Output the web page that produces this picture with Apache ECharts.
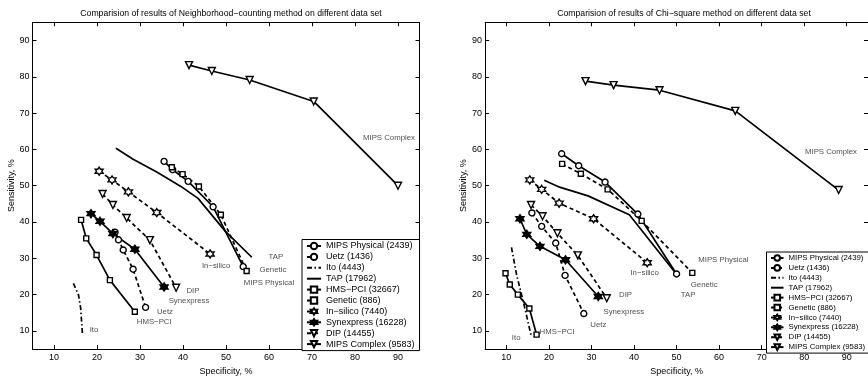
<!DOCTYPE html>
<html>
<head>
<meta charset="utf-8">
<script src="https://cdn.jsdelivr.net/npm/echarts@6/dist/echarts.min.js"></script>
<style>html,body{margin:0;padding:0;background:#fff}#c{width:868px;height:381px}</style>
</head>
<body>
<div id="c"></div>
<script>
// ---- data ----
const seriesNames = ['MIPS Physical (2439)','Uetz (1436)','Ito (4443)','TAP (17962)','HMS\u2212PCI (32667)','Genetic (886)','In\u2212silico (7440)','Synexpress (16228)','DIP (14455)','MIPS Complex (9583)'];
const tickValues = [10,20,30,40,50,60,70,80,90];
const titleLeft = 'Comparision of results of Neighborhood\u2212counting method on different data set';
const titleRight = 'Comparision of results of Chi\u2212square method on different data set';

// Neighborhood-counting (left)  [specificity, sensitivity]
const nbMipsPhysical = [[35.6,56.7],[37.6,54.4],[41.2,51.2],[47.0,44.2],[54.0,27.7]];
const nbUetz = [[24.2,37.2],[25.0,35.1],[26.1,32.3],[28.4,27.0],[31.3,16.5]];
const nbIto = [[14.5,23.1],[15.7,19.9],[16.2,16.3],[16.6,9.4]];
const nbTap = [[24.4,60.3],[28.4,57.3],[33.9,53.8],[39.5,49.8],[43.5,46.5],[49.8,37.5],[56.0,30.3]];
const nbHmsPci = [[16.3,40.6],[17.5,35.5],[19.9,30.9],[23.0,24.0],[28.8,15.3]];
const nbGenetic = [[37.4,55.1],[39.9,53.2],[43.7,49.8],[48.8,42.0],[54.8,26.5]];
const nbInSilico = [[20.5,54.0],[23.5,51.6],[27.3,48.3],[33.9,42.6],[46.3,31.2]];
const nbSynexpress = [[18.6,42.3],[20.7,40.2],[23.7,36.8],[28.8,32.5],[35.6,22.1]];
const nbDip = [[21.3,47.7],[23.7,44.7],[26.9,41.1],[32.3,35.0],[38.4,21.9]];
const nbMipsComplex = [[41.4,83.2],[46.7,81.6],[55.5,79.1],[70.4,73.2],[90.0,50.0]];

// Chi-square (right)
const csMipsPhysical = [[23.0,58.8],[27.0,55.5],[33.2,51.0],[40.9,42.2],[50.0,25.7]];
const csUetz = [[16.0,42.5],[18.3,38.8],[21.6,34.2],[23.8,25.3],[28.2,14.8]];
const csIto = [[11.2,33.0],[12.4,25.5],[14.2,17.0],[15.8,8.8]];
const csTap = [[18.9,51.5],[22.5,49.6],[29.2,47.2],[38.9,42.0],[49.8,25.9]];
const csHmsPci = [[9.8,25.9],[10.8,22.8],[12.7,20.0],[15.4,16.2],[17.1,9.0]];
const csGenetic = [[23.1,56.0],[27.5,53.3],[33.8,49.0],[41.8,40.3],[53.7,26.0]];
const csInSilico = [[15.5,51.6],[18.3,49.0],[22.4,45.2],[30.5,40.9],[43.1,28.8]];
const csSynexpress = [[13.2,40.9],[14.8,36.6],[17.9,33.3],[23.9,29.6],[31.6,19.5]];
const csDip = [[15.8,44.7],[18.5,41.6],[22.0,36.9],[26.8,30.8],[33.6,19.0]];
const csMipsComplex = [[28.6,78.8],[35.2,77.7],[46.0,76.3],[63.8,70.6],[88.1,48.8]];

// text annotations [x, y, text]
const nbLabels = [[87.9,63.2,'MIPS Complex'],[61.6,30.5,'TAP'],[60.9,26.9,'Genetic'],[60.0,23.2,'MIPS Physical'],[47.7,27.8,'In\u2212silico'],[42.3,21.0,'DIP'],[41.4,18.3,'Synexpress'],[35.8,15.3,'Uetz'],[33.3,12.4,'HMS\u2212PCI'],[19.3,10.2,'Ito']];
const csLabels = [[86.3,59.3,'MIPS Complex'],[61.0,29.7,'MIPS Physical'],[56.5,22.7,'Genetic'],[52.7,20.0,'TAP'],[42.5,25.9,'In\u2212silico'],[38.0,20.0,'DIP'],[37.6,15.3,'Synexpress'],[31.6,11.7,'Uetz'],[21.9,9.7,'HMS\u2212PCI'],[12.3,8.2,'Ito']];

const nbData = [nbMipsPhysical,nbUetz,nbIto,nbTap,nbHmsPci,nbGenetic,nbInSilico,nbSynexpress,nbDip,nbMipsComplex];
const csData = [csMipsPhysical,csUetz,csIto,csTap,csHmsPci,csGenetic,csInSilico,csSynexpress,csDip,csMipsComplex];

// ---- styles ----
const FONT = 'Liberation Sans';
const HEX = 'path://M0,-10L2.89,-5L8.66,-5L5.77,0L8.66,5L2.89,5L0,10L-2.89,5L-8.66,5L-5.77,0L-8.66,-5L-2.89,-5Z';
const TRI = 'path://M0,0L10,0L5,9Z';
const DASH = [4,3];
const DASHDOT = [5,2.5,1.5,2.5];
const styles = [
  {symbol:'circle', size:6, type:'solid', fill:'#fff'},
  {symbol:'circle', size:6, type:DASH, fill:'#fff'},
  {symbol:'none', size:0, type:DASHDOT, fill:'#fff'},
  {symbol:'none', size:0, type:'solid', fill:'#fff'},
  {symbol:'rect', size:5, type:'solid', fill:'#fff'},
  {symbol:'rect', size:5, type:DASH, fill:'#fff'},
  {symbol:HEX, size:8, type:DASH, fill:'#fff'},
  {symbol:HEX, size:8, type:'solid', fill:'#000'},
  {symbol:TRI, size:7, type:DASH, fill:'#fff'},
  {symbol:TRI, size:7, type:'solid', fill:'#fff'}
];

function makeSeries(dataSets, xi, yi) {
  return dataSets.map((d, i) => ({
    name: seriesNames[i],
    type: 'line',
    xAxisIndex: xi, yAxisIndex: yi,
    data: d,
    symbol: styles[i].symbol,
    symbolSize: styles[i].size,
    showSymbol: styles[i].symbol !== 'none',
    lineStyle: {color:'#000', width:1.7, type: styles[i].type},
    itemStyle: {color: styles[i].fill, borderColor:'#000', borderWidth:1.4},
    animation: false,
    silent: true,
    z: 3
  }));
}
function labelSeries(lbls, xi, yi) {
  return {
    name: 'labels', type: 'scatter', xAxisIndex: xi, yAxisIndex: yi,
    symbolSize: 1, itemStyle: {color:'rgba(0,0,0,0)'},
    data: lbls.map(l => ({value:[l[0], l[1]], name: l[2]})),
    label: {show:true, position:'inside', formatter: p => p.name, color:'#222', fontSize:7.8, fontFamily:FONT},
    animation: false, silent: true, z: 2
  };
}

const axisCommon = {
  type: 'value', min: 5, max: 95,
  axisLine: {show:true, onZero:false, lineStyle:{color:'#000', width:1}},
  axisTick: {show:true, inside:true, length:4, lineStyle:{color:'#000'}, customValues: tickValues},
  splitLine: {show:false}
};
function xAx(grid, pos, labels) {
  return Object.assign({}, axisCommon, {
    gridIndex: grid, position: pos,
    name: labels ? 'Specificity, %' : '', nameLocation:'middle', nameGap: 17,
    nameTextStyle:{fontSize:9, color:'#000', fontFamily:FONT},
    axisLabel: {show: labels, customValues: tickValues, fontSize:9, color:'#000', fontFamily:FONT, margin:4}
  });
}
function yAx(grid, pos, labels) {
  return Object.assign({}, axisCommon, {
    gridIndex: grid, position: pos,
    name: labels ? 'Sensitivity, %' : '', nameLocation:'middle', nameGap: 14,
    nameTextStyle:{fontSize:9, color:'#000', fontFamily:FONT},
    axisLabel: {show: labels, customValues: tickValues, fontSize:9, color:'#000', fontFamily:FONT, margin:3}
  });
}

const legendData = seriesNames.map((n, i) => styles[i].symbol === 'none' ? {name:n, itemStyle:{opacity:0}} : n);
const legendCommon = {
  data: legendData, orient:'vertical', selectedMode:false, z: 10,
  borderColor:'#000', borderWidth:1, backgroundColor:'#fff'
};

const chart = echarts.init(document.getElementById('c'), null, {renderer:'canvas'});
chart.setOption({
  backgroundColor:'#fff',
  animation:false,
  title: [
    {text:titleLeft, left:226, top:4, textAlign:'center', textStyle:{fontSize:8.7, fontWeight:'normal', color:'#000', fontFamily:FONT}},
    {text:titleRight, left:679, top:4, textAlign:'center', textStyle:{fontSize:8.7, fontWeight:'normal', color:'#000', fontFamily:FONT}}
  ],
  grid: [
    {left:32.5, top:22.3, width:387, height:332.7},
    {left:485.1, top:22.3, width:387.9, height:332.7}
  ],
  xAxis: [xAx(0,'bottom',true), xAx(0,'top',false), xAx(1,'bottom',true), xAx(1,'top',false)],
  yAxis: [yAx(0,'left',true), yAx(0,'right',false), yAx(1,'left',true), yAx(1,'right',false)],
  legend: [
    Object.assign({}, legendCommon, {left:302, top:239.5, itemWidth:14, itemHeight:8, itemGap:1.9, padding:[2,5,2,4],
      textStyle:{fontSize:9, color:'#000', fontFamily:FONT}}),
    Object.assign({}, legendCommon, {left:766.5, top:252, itemWidth:12.5, itemHeight:7, itemGap:1.9, padding:[2,4,2,3.5],
      textStyle:{fontSize:7.8, color:'#000', fontFamily:FONT}})
  ],
  series: [].concat(makeSeries(nbData,0,0), [labelSeries(nbLabels,0,0)], makeSeries(csData,2,2), [labelSeries(csLabels,2,2)])
});
</script>
</body>
</html>
